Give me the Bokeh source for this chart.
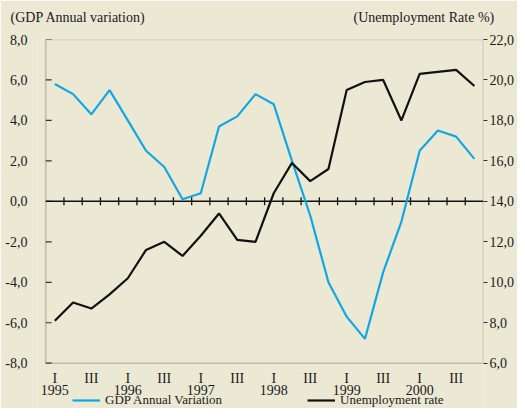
from bokeh.plotting import figure
from bokeh.models import (Range1d, LinearAxis, FixedTicker, CustomJSTickFormatter,
                          Legend, LegendItem, ColumnDataSource, BoxAnnotation)
from bokeh.embed import file_html
from bokeh.resources import INLINE

# ---- data ----
years = ["1995", "1996", "1997", "1998", "1999", "2000"]
quarter_names = ["I", "II", "III", "IV"]
gdp = [5.8, 5.3, 4.3, 5.5, 4.0, 2.5, 1.7, 0.1, 0.4, 3.7, 4.2, 5.3,
       4.8, 2.0, -0.7, -4.0, -5.7, -6.8, -3.5, -1.0, 2.5, 3.5, 3.2, 2.1]
unemployment = [8.1, 9.0, 8.7, 9.4, 10.2, 11.6, 12.0, 11.3, 12.3, 13.4, 12.1, 12.0,
                14.4, 15.9, 15.0, 15.6, 19.5, 19.9, 20.0, 18.0, 20.3, 20.4, 20.5, 19.7]
left_ticks = [-8, -6, -4, -2, 0, 2, 4, 6, 8]
right_ticks = [6, 8, 10, 12, 14, 16, 18, 20, 22]
titles = ["(GDP Annual variation)", "(Unemployment Rate %)"]
series_names = ["GDP Annual Variation", "Unemployment rate"]

BG = "#EBE8D4"
BLUE = "#13A6E4"
BLACK = "#111111"
FONT = "Liberation Serif"
FS = "14px"
TXT = "#1a1a1a"

# layout constants (pixels)
W, H = 517, 408
FRAME_L, BOX_L, BOX_R = 37, 45.3, 487
BOX_TOP, BOX_H = 39, 323.7
n = len(gdp)
px_y = BOX_H / (left_ticks[-1] - left_ticks[0])
px_x = (BOX_R - BOX_L) / n
ext_y = (H - BOX_TOP - BOX_H) / px_y       # data units below the box
ext_x = (BOX_L - FRAME_L) / px_x           # data units left of the box

xs = [i + 0.5 for i in range(n)]
src = ColumnDataSource(dict(x=xs, gdp=gdp, un=unemployment))

lo, hi = left_ticks[0], left_ticks[-1]
p = figure(width=W, height=H, output_backend="svg", toolbar_location=None,
           x_range=Range1d(-ext_x, n), y_range=Range1d(lo - ext_y, hi),
           x_axis_location=None,
           min_border_left=FRAME_L, min_border_right=W - BOX_R, min_border_top=BOX_TOP,
           min_border_bottom=0,
           background_fill_color=BG, border_fill_color=BG)
p.extra_y_ranges = {"u": Range1d(right_ticks[0] - ext_y, right_ticks[-1])}
p.grid.visible = False
p.outline_line_color = None

# visible plot box
p.add_layout(BoxAnnotation(left=0, right=n, bottom=lo, top=hi, fill_alpha=0,
                           line_color="#555555", line_width=1.6))

fmt = CustomJSTickFormatter(code="return tick.toFixed(1).replace('.', ',');")

# left axis (labels), ticks drawn inside the box
ya = p.yaxis[0]
ya.ticker = FixedTicker(ticks=left_ticks)
ya.formatter = fmt
ya.axis_line_color = None
ya.major_tick_line_color = None
ya.minor_tick_line_color = None
ya.major_label_standoff = 4
ya.major_label_text_font = FONT
ya.major_label_text_font_size = FS
ya.major_label_text_color = TXT
p.segment(x0=[0] * len(left_ticks), x1=[6 / px_x] * len(left_ticks),
          y0=left_ticks, y1=left_ticks, line_color="#333333", line_width=1.2)

# right axis
ra = LinearAxis(y_range_name="u", ticker=FixedTicker(ticks=right_ticks), formatter=fmt)
ra.axis_line_color = None
ra.major_tick_in = 0
ra.major_tick_out = 4
ra.major_tick_line_color = "#333333"
ra.major_tick_line_width = 1.2
ra.minor_tick_line_color = None
ra.major_label_standoff = 2
ra.major_label_text_font = FONT
ra.major_label_text_font_size = FS
ra.major_label_text_color = TXT
p.add_layout(ra, "right")

# top "axis" carrying the two unit titles
title_pos = [1.78, 20.73]
ta = LinearAxis(ticker=FixedTicker(ticks=title_pos),
                major_label_overrides={title_pos[0]: titles[0], title_pos[1]: titles[1]})
ta.axis_line_color = None
ta.major_tick_line_color = None
ta.minor_tick_line_color = None
ta.major_label_standoff = 9
ta.major_label_text_font = FONT
ta.major_label_text_font_size = FS
ta.major_label_text_color = TXT
p.add_layout(ta, "above")

# category labels below the box (quarters, years)
q_x, q_t, y_x, y_t = [], [], [], []
for i in range(n):
    q = quarter_names[i % 4]
    if q in ("I", "III"):
        q_x.append(xs[i]); q_t.append(q)
    if q == "I":
        y_x.append(xs[i]); y_t.append(years[i // 4])
q_y = lo - 15.5 / px_y
yr_y = lo - 27.0 / px_y
p.text(x=q_x, y=[q_y] * len(q_x), text=q_t, text_align="center", text_baseline="middle",
       text_font={"value": FONT}, text_font_size=FS, text_color=TXT)
p.text(x=y_x, y=[yr_y] * len(y_x), text=y_t, text_align="center", text_baseline="middle",
       text_font={"value": FONT}, text_font_size=FS, text_color=TXT)

# zero line with quarter ticks
p.segment(x0=[0], x1=[n], y0=[0], y1=[0], line_color=BLACK, line_width=1.5)
bounds = list(range(1, n))
tick_h = 4.0 / px_y
p.segment(x0=bounds, x1=bounds, y0=[-tick_h] * len(bounds), y1=[tick_h] * len(bounds),
          line_color=BLACK, line_width=1.3)

# series
r1 = p.line("x", "gdp", source=src, line_color=BLUE, line_width=2.2)
r2 = p.line("x", "un", source=src, y_range_name="u", line_color=BLACK, line_width=2.2)

# legend
leg = Legend(items=[LegendItem(label=series_names[0], renderers=[r1]),
                    LegendItem(label=series_names[1], renderers=[r2])],
             location=(int(BOX_L - FRAME_L + 27), 0), orientation="horizontal", spacing=85,
             glyph_width=28, glyph_height=12, label_height=12, label_standoff=5,
             padding=0, margin=0, background_fill_alpha=0, border_line_alpha=0,
             label_text_font=FONT, label_text_font_size="13px", label_text_color=TXT)
p.add_layout(leg)

open("out.html", "w").write(file_html(p, INLINE))
